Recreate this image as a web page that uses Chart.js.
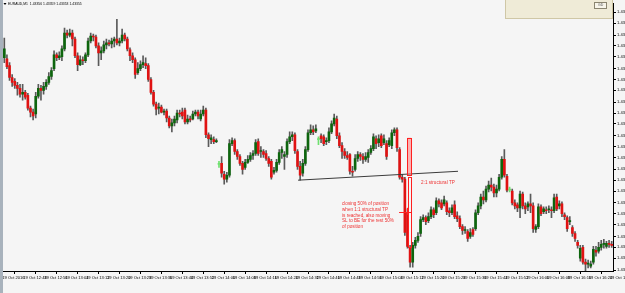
<!DOCTYPE html>
<html><head><meta charset="utf-8">
<script src="https://cdn.jsdelivr.net/npm/chart.js@4.4.1/dist/chart.umd.min.js"></script>
<style>
html,body{margin:0;padding:0;width:625px;height:293px;overflow:hidden;background:#f5f5f5;}
#wrap{position:absolute;left:0;top:0;width:660px;height:293px;}
#strip{position:absolute;left:0;top:0;width:3px;height:293px;background:#a8b2bc;z-index:2;}
</style></head><body>
<div id="wrap"><canvas id="c" width="660" height="293"></canvas></div>
<div id="strip"></div>
<script>
const symbolTitle = 'EURAUD,M1  1.43356 1.43359 1.43353 1.43355';
const timeLabels = ['19 Oct 2016','19 Oct 12:48','19 Oct 12:56','19 Oct 13:04','19 Oct 13:12','19 Oct 13:20','19 Oct 13:28','19 Oct 13:36','19 Oct 13:44','19 Oct 13:52','19 Oct 14:00','19 Oct 14:08','19 Oct 14:16','19 Oct 14:24','19 Oct 14:32','19 Oct 14:40','19 Oct 14:48','19 Oct 14:56','19 Oct 15:04','19 Oct 15:12','19 Oct 15:20','19 Oct 15:28','19 Oct 15:36','19 Oct 15:44','19 Oct 15:52','19 Oct 16:00','19 Oct 16:08','19 Oct 16:16','19 Oct 16:24','19 Oct 16:32'];
const priceTicks = [1.43591,1.43580,1.43568,1.43557,1.43546,1.43534,1.43523,1.43512,1.43500,1.43489,1.43478,1.43466,1.43455,1.43444,1.43432,1.43421,1.43410,1.43398,1.43387,1.43376,1.43364,1.43353,1.43342,1.43330];
const open = [
1.43545,1.43544,1.43537,1.43525,1.43521,1.43517,1.43514,1.43508,1.43510,1.43507,
1.43494,1.43490,1.43488,1.43506,1.43514,1.43512,1.43516,1.43520,1.43526,1.43534,
1.43548,1.43545,1.43546,1.43554,1.43570,1.43568,1.43570,1.43564,1.43547,1.43538,
1.43543,1.43542,1.43548,1.43562,1.43567,1.43566,1.43557,1.43550,1.43552,1.43558,
1.43560,1.43559,1.43562,1.43564,1.43560,1.43562,1.43568,1.43564,1.43553,1.43547,
1.43543,1.43530,1.43534,1.43538,1.43539,1.43537,1.43523,1.43510,1.43498,1.43494,
1.43495,1.43490,1.43491,1.43484,1.43476,1.43479,1.43482,1.43489,1.43490,1.43492,
1.43480,1.43483,1.43483,1.43488,1.43490,1.43483,1.43488,1.43492,1.43467,1.43462,
1.43462,1.43460,1.43437,1.43438,1.43427,1.43422,1.43426,1.43458,1.43461,1.43450,
1.43445,1.43438,1.43434,1.43439,1.43442,1.43446,1.43448,1.43460,1.43450,1.43450,
1.43448,1.43443,1.43440,1.43429,1.43431,1.43439,1.43449,1.43445,1.43447,1.43460,
1.43465,1.43467,1.43450,1.43435,1.43428,1.43438,1.43452,1.43469,1.43472,1.43471,
1.43462,1.43466,1.43465,1.43460,1.43461,1.43470,1.43478,1.43483,1.43466,1.43456,
1.43450,1.43446,1.43447,1.43430,1.43432,1.43443,1.43447,1.43445,1.43442,1.43444,
1.43449,1.43453,1.43463,1.43459,1.43466,1.43459,1.43458,1.43457,1.43456,1.43469,
1.43472,1.43452,1.43424,1.43422,1.43388,1.43352,1.43338,1.43355,1.43360,1.43367,
1.43381,1.43383,1.43380,1.43384,1.43391,1.43388,1.43400,1.43398,1.43397,1.43398,
1.43390,1.43388,1.43396,1.43385,1.43382,1.43374,1.43370,1.43369,1.43364,1.43371,
1.43372,1.43388,1.43395,1.43404,1.43401,1.43412,1.43416,1.43414,1.43408,1.43412,
1.43424,1.43442,1.43425,1.43411,1.43410,1.43398,1.43396,1.43393,1.43407,1.43395,
1.43394,1.43397,1.43395,1.43371,1.43374,1.43394,1.43389,1.43391,1.43391,1.43391,
1.43390,1.43404,1.43395,1.43397,1.43386,1.43383,1.43379,1.43373,1.43367,1.43358,
1.43342,1.43353,1.43338,1.43336,1.43334,1.43338,1.43350,1.43349,1.43353,1.43356,
1.43354,1.43357,1.43356];
const close = [
1.43554,1.43536,1.43525,1.43520,1.43517,1.43514,1.43508,1.43510,1.43505,1.43494,
1.43490,1.43486,1.43506,1.43514,1.43512,1.43516,1.43520,1.43526,1.43532,1.43548,
1.43545,1.43547,1.43554,1.43570,1.43568,1.43570,1.43564,1.43547,1.43538,1.43543,
1.43542,1.43548,1.43562,1.43567,1.43566,1.43557,1.43550,1.43552,1.43558,1.43560,
1.43559,1.43562,1.43564,1.43560,1.43562,1.43568,1.43564,1.43554,1.43547,1.43543,
1.43528,1.43534,1.43538,1.43540,1.43537,1.43523,1.43510,1.43498,1.43493,1.43495,
1.43490,1.43491,1.43484,1.43476,1.43479,1.43483,1.43489,1.43488,1.43486,1.43480,
1.43483,1.43482,1.43488,1.43490,1.43486,1.43488,1.43492,1.43467,1.43463,1.43464,
1.43460,1.43461,1.43437,1.43428,1.43422,1.43426,1.43458,1.43461,1.43450,1.43445,
1.43438,1.43432,1.43439,1.43442,1.43446,1.43448,1.43459,1.43448,1.43451,1.43447,
1.43443,1.43438,1.43424,1.43431,1.43439,1.43449,1.43452,1.43447,1.43460,1.43465,
1.43467,1.43451,1.43435,1.43426,1.43438,1.43452,1.43469,1.43472,1.43470,1.43473,
1.43462,1.43463,1.43458,1.43461,1.43470,1.43478,1.43484,1.43466,1.43456,1.43450,
1.43446,1.43444,1.43430,1.43429,1.43443,1.43447,1.43445,1.43442,1.43445,1.43449,
1.43453,1.43465,1.43458,1.43463,1.43456,1.43463,1.43445,1.43461,1.43469,1.43472,
1.43454,1.43424,1.43422,1.43368,1.43354,1.43338,1.43355,1.43360,1.43364,1.43381,
1.43383,1.43379,1.43384,1.43391,1.43386,1.43400,1.43397,1.43393,1.43401,1.43389,
1.43388,1.43393,1.43384,1.43382,1.43374,1.43370,1.43371,1.43362,1.43368,1.43366,
1.43388,1.43395,1.43404,1.43401,1.43412,1.43416,1.43414,1.43408,1.43412,1.43424,
1.43442,1.43426,1.43411,1.43411,1.43398,1.43395,1.43393,1.43407,1.43395,1.43392,
1.43397,1.43395,1.43372,1.43374,1.43394,1.43387,1.43392,1.43390,1.43392,1.43390,
1.43403,1.43392,1.43397,1.43387,1.43384,1.43372,1.43380,1.43367,1.43362,1.43355,
1.43352,1.43338,1.43336,1.43337,1.43336,1.43351,1.43348,1.43353,1.43356,1.43357,
1.43357,1.43356,1.43355];
const high = [
1.43565,1.43548,1.43540,1.43528,1.43524,1.43520,1.43518,1.43518,1.43512,1.43509,
1.43496,1.43493,1.43510,1.43518,1.43517,1.43520,1.43523,1.43530,1.43535,1.43552,
1.43550,1.43551,1.43557,1.43575,1.43573,1.43574,1.43573,1.43566,1.43550,1.43547,
1.43546,1.43550,1.43565,1.43570,1.43569,1.43568,1.43560,1.43556,1.43562,1.43564,
1.43563,1.43565,1.43566,1.43584,1.43565,1.43574,1.43570,1.43566,1.43555,1.43550,
1.43545,1.43540,1.43542,1.43547,1.43545,1.43539,1.43525,1.43512,1.43500,1.43499,
1.43497,1.43493,1.43493,1.43486,1.43483,1.43486,1.43492,1.43492,1.43494,1.43494,
1.43487,1.43486,1.43491,1.43492,1.43492,1.43492,1.43496,1.43494,1.43469,1.43467,
1.43465,1.43463,1.43440,1.43445,1.43430,1.43429,1.43462,1.43464,1.43463,1.43452,
1.43447,1.43440,1.43442,1.43446,1.43449,1.43451,1.43462,1.43463,1.43455,1.43452,
1.43451,1.43445,1.43442,1.43434,1.43442,1.43452,1.43455,1.43450,1.43463,1.43470,
1.43470,1.43469,1.43452,1.43440,1.43442,1.43455,1.43472,1.43477,1.43476,1.43477,
1.43465,1.43468,1.43467,1.43464,1.43474,1.43481,1.43488,1.43486,1.43469,1.43459,
1.43453,1.43450,1.43448,1.43435,1.43447,1.43450,1.43449,1.43448,1.43449,1.43452,
1.43456,1.43468,1.43466,1.43467,1.43468,1.43467,1.43461,1.43464,1.43472,1.43474,
1.43474,1.43454,1.43427,1.43424,1.43392,1.43355,1.43358,1.43363,1.43368,1.43384,
1.43386,1.43385,1.43388,1.43394,1.43393,1.43403,1.43402,1.43401,1.43405,1.43400,
1.43393,1.43396,1.43400,1.43389,1.43385,1.43376,1.43374,1.43371,1.43372,1.43373,
1.43391,1.43398,1.43407,1.43410,1.43415,1.43420,1.43423,1.43417,1.43416,1.43427,
1.43445,1.43452,1.43427,1.43414,1.43412,1.43401,1.43398,1.43410,1.43409,1.43398,
1.43399,1.43407,1.43398,1.43376,1.43397,1.43396,1.43394,1.43394,1.43395,1.43394,
1.43407,1.43407,1.43400,1.43399,1.43388,1.43385,1.43384,1.43375,1.43369,1.43360,
1.43355,1.43355,1.43341,1.43340,1.43339,1.43354,1.43354,1.43358,1.43360,1.43361,
1.43359,1.43360,1.43359];
const low = [
1.43540,1.43534,1.43522,1.43516,1.43514,1.43507,1.43505,1.43502,1.43503,1.43492,
1.43485,1.43482,1.43484,1.43504,1.43502,1.43508,1.43513,1.43518,1.43523,1.43532,
1.43542,1.43543,1.43542,1.43552,1.43565,1.43566,1.43557,1.43545,1.43532,1.43537,
1.43538,1.43540,1.43546,1.43560,1.43562,1.43555,1.43537,1.43543,1.43550,1.43554,
1.43557,1.43555,1.43556,1.43558,1.43557,1.43560,1.43562,1.43552,1.43542,1.43540,
1.43524,1.43528,1.43532,1.43535,1.43534,1.43521,1.43508,1.43496,1.43487,1.43488,
1.43489,1.43487,1.43480,1.43474,1.43470,1.43476,1.43479,1.43485,1.43483,1.43478,
1.43478,1.43480,1.43482,1.43486,1.43483,1.43481,1.43486,1.43464,1.43455,1.43458,
1.43458,1.43459,1.43434,1.43424,1.43417,1.43419,1.43424,1.43456,1.43447,1.43442,
1.43436,1.43427,1.43432,1.43438,1.43440,1.43442,1.43446,1.43446,1.43444,1.43444,
1.43441,1.43435,1.43422,1.43427,1.43429,1.43437,1.43443,1.43432,1.43444,1.43458,
1.43461,1.43448,1.43432,1.43421,1.43425,1.43436,1.43450,1.43467,1.43467,1.43469,
1.43457,1.43459,1.43456,1.43457,1.43459,1.43468,1.43476,1.43463,1.43454,1.43443,
1.43443,1.43442,1.43427,1.43425,1.43430,1.43440,1.43441,1.43438,1.43440,1.43439,
1.43447,1.43451,1.43453,1.43455,1.43454,1.43457,1.43442,1.43455,1.43453,1.43466,
1.43450,1.43422,1.43419,1.43365,1.43352,1.43333,1.43333,1.43352,1.43358,1.43364,
1.43379,1.43376,1.43378,1.43382,1.43383,1.43386,1.43394,1.43391,1.43395,1.43386,
1.43384,1.43386,1.43382,1.43379,1.43372,1.43366,1.43367,1.43359,1.43362,1.43364,
1.43370,1.43386,1.43392,1.43397,1.43399,1.43409,1.43410,1.43404,1.43404,1.43410,
1.43422,1.43424,1.43409,1.43409,1.43396,1.43392,1.43389,1.43383,1.43392,1.43387,
1.43390,1.43388,1.43368,1.43368,1.43372,1.43385,1.43387,1.43387,1.43388,1.43383,
1.43388,1.43390,1.43392,1.43384,1.43381,1.43369,1.43376,1.43364,1.43359,1.43352,
1.43339,1.43336,1.43329,1.43332,1.43332,1.43336,1.43344,1.43347,1.43350,1.43352,
1.43352,1.43353,1.43353];

// annotations: [barIndex, price]
const trendLine = [[112.2, 1.43421], [173.3, 1.43430]];
const tpBox = [[154.0, 1.43464], [155.4, 1.43427]];
const slBox = [[154.2, 1.43424], [155.5, 1.43353]];
const tpLabel = {at: [159.2, 1.43418], text: '2:1 structural TP'};
const noteAt = 129.0;
const noteLines = ['closing 50% of position', 'when 1:1 structural TP', 'is reached, also moving', 'SL to BE for the rest 50%', 'of position'];
const notePrices = [1.43397, 1.43391, 1.43385, 1.43380, 1.43374];
const crossH = [[150.8, 1.43389], [155.5, 1.43389]];
const crossV = [[153.7, 1.43393], [153.7, 1.43386]];

const bodyData = open.map((o, i) => ({x: i, y: [o, close[i]]}));
const wickData = open.map((o, i) => ({x: i, y: [low[i], high[i]]}));
const bodyColors = open.map((o, i) => close[i] > o ? '#0d650d' : (close[i] < o ? '#e01212' : '#6fe06f'));
const wickColors = open.map((o, i) => close[i] === o ? '#6fe06f' : '#5a5a5a');

const FONT = 'Liberation Sans';
const deco = {
  id: 'deco',
  beforeDraw(chart) {
    const c = chart.ctx;
    c.save(); c.fillStyle = '#f5f5f5'; c.fillRect(0, 0, chart.width, chart.height); c.restore();
  },
  afterDatasetsDraw(chart) {
    const c = chart.ctx, xs = chart.scales.x, ys = chart.scales.y;
    const P = (p) => [xs.getPixelForValue(p[0]), ys.getPixelForValue(p[1])];
    c.save();
    let a = P(trendLine[0]), b = P(trendLine[1]);
    c.strokeStyle = '#3c3c3c'; c.lineWidth = 1;
    c.beginPath(); c.moveTo(a[0], a[1]); c.lineTo(b[0], b[1]); c.stroke();
    a = P(tpBox[0]); b = P(tpBox[1]);
    c.fillStyle = 'rgba(255,120,120,0.55)';
    c.fillRect(a[0], a[1], b[0] - a[0], b[1] - a[1]);
    c.strokeStyle = '#ff2020';
    c.strokeRect(Math.round(a[0]) + 0.5, Math.round(a[1]) + 0.5, Math.round(b[0] - a[0]), Math.round(b[1] - a[1]));
    a = P(slBox[0]); b = P(slBox[1]);
    c.strokeRect(Math.round(a[0]) + 0.5, Math.round(a[1]) + 0.5, Math.round(b[0] - a[0]), Math.round(b[1] - a[1]));
    a = P(crossH[0]); b = P(crossH[1]);
    c.beginPath(); c.moveTo(a[0], Math.round(a[1]) + 0.5); c.lineTo(b[0], Math.round(b[1]) + 0.5); c.stroke();
    a = P(crossV[0]); b = P(crossV[1]);
    c.beginPath(); c.moveTo(Math.round(a[0]) + 0.5, a[1]); c.lineTo(Math.round(b[0]) + 0.5, b[1]); c.stroke();
    c.fillStyle = '#ee3333';
    c.textBaseline = 'middle'; c.textAlign = 'left';
    c.font = '4.6px "' + FONT + '"';
    a = P(tpLabel.at);
    c.fillText(tpLabel.text, a[0], a[1]);
    noteLines.forEach((t, k) => {
      const q = P([noteAt, notePrices[k]]);
      c.fillText(t, q[0], q[1]);
    });
    c.restore();
  },
  afterDraw(chart) {
    const c = chart.ctx;
    c.save();
    c.fillStyle = '#000';
    c.beginPath(); c.moveTo(3.5, 3); c.lineTo(6.5, 3); c.lineTo(5, 5); c.closePath(); c.fill();
    c.font = '3.4px "' + FONT + '"'; c.textBaseline = 'middle'; c.textAlign = 'left';
    c.fillText(symbolTitle, 8, 4);
    c.fillStyle = '#efebd7';
    c.fillRect(505, 0, 108, 19);
    c.strokeStyle = '#cfc7a6'; c.lineWidth = 1;
    c.strokeRect(505.5, -0.5, 107, 19);
    c.fillStyle = '#f7f5ea';
    c.fillRect(594, 2, 13, 7);
    c.strokeStyle = '#8a8570';
    c.strokeRect(594.5, 2.5, 12, 6);
    c.fillStyle = '#555'; c.font = '3.5px "' + FONT + '"';
    c.fillText('GD', 598, 5.5);
    c.restore();
  }
};

new Chart(document.getElementById('c'), {
  type: 'bar',
  data: {
    datasets: [
      {data: bodyData, backgroundColor: bodyColors, barThickness: 2, grouped: false, minBarLength: 1, order: 0, borderWidth: 0},
      {data: wickData, backgroundColor: wickColors, barThickness: 1, grouped: false, order: 1, borderWidth: 0}
    ]
  },
  options: {
    responsive: false, animation: false,
    layout: {padding: {left: 3, top: 0, right: 0, bottom: 0}},
    plugins: {legend: {display: false}, tooltip: {enabled: false}},
    scales: {
      x: {
        type: 'linear', min: -0.5, max: open.length - 0.5, offset: false,
        afterBuildTicks: (s) => { s.ticks = timeLabels.map((t, k) => ({value: k * 8})); },
        afterFit: (s) => { s.height = 22; },
        grid: {drawOnChartArea: false, drawTicks: true, tickLength: 3, color: '#000'},
        border: {display: true, color: '#000', width: 1},
        ticks: {autoSkip: false, maxRotation: 0, align: 'start', padding: 1, labelOffset: -2,
          color: '#000', font: {size: 4.1, family: FONT},
          callback: (v) => timeLabels[Math.round(v / 8)]}
      },
      y: {
        position: 'right', min: 1.43329, max: 1.43600,
        afterBuildTicks: (s) => { s.ticks = priceTicks.map(v => ({value: v})); },
        afterFit: (s) => { s.width = 47; },
        grid: {drawOnChartArea: false, drawTicks: true, tickLength: 3, color: '#000'},
        border: {display: true, color: '#000', width: 1},
        ticks: {padding: 1, color: '#000', font: {size: 4.1, family: FONT},
          callback: (v) => Number(v).toFixed(5)}
      }
    }
  },
  plugins: [deco]
});
</script>
</body></html>
